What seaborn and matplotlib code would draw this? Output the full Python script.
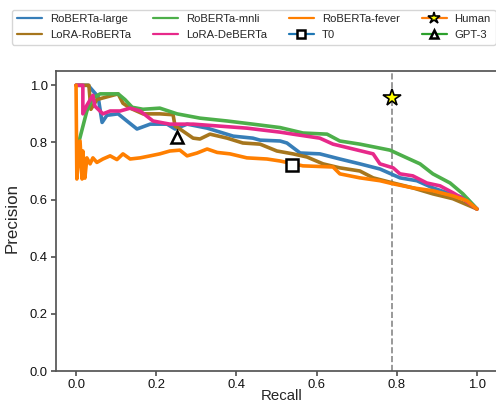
import matplotlib
matplotlib.use("Agg")
import matplotlib.pyplot as plt
import seaborn as sns
import pandas as pd

# ---- data ----
roberta_large_r = [0.0, 0.03, 0.055, 0.065, 0.077, 0.105, 0.127, 0.152, 0.185, 0.227, 0.247, 0.277, 0.327,
                   0.392, 0.441, 0.459, 0.509, 0.526, 0.559, 0.608, 0.658, 0.708, 0.758, 0.808, 0.85,
                   0.89, 0.925, 0.975, 1.0]
roberta_large_p = [1.0, 1.0, 0.96, 0.87, 0.895, 0.90, 0.875, 0.847, 0.864, 0.864, 0.847, 0.864, 0.85,
                   0.822, 0.815, 0.808, 0.805, 0.798, 0.763, 0.76, 0.742, 0.725, 0.707, 0.676, 0.666,
                   0.641, 0.624, 0.603, 0.567]

lora_roberta_r = [0.0, 0.032, 0.037, 0.052, 0.105, 0.117, 0.135, 0.167, 0.209, 0.242, 0.247, 0.259, 0.292,
                  0.309, 0.334, 0.377, 0.416, 0.459, 0.501, 0.541, 0.576, 0.616, 0.658, 0.708, 0.741,
                  0.791, 0.84, 0.89, 0.94, 1.0]
lora_roberta_p = [1.0, 1.0, 0.916, 0.95, 0.97, 0.937, 0.92, 0.90, 0.90, 0.897, 0.857, 0.847, 0.815,
                  0.812, 0.829, 0.815, 0.798, 0.794, 0.77, 0.76, 0.749, 0.725, 0.711, 0.70, 0.676,
                  0.658, 0.641, 0.62, 0.603, 0.567]

roberta_mnli_r = [0.003, 0.027, 0.042, 0.06, 0.105, 0.122, 0.14, 0.167, 0.209, 0.252, 0.309, 0.377, 0.441,
                  0.509, 0.566, 0.626, 0.658, 0.708, 0.783, 0.825, 0.858, 0.89, 0.933, 0.965, 1.0]
roberta_mnli_p = [0.78, 0.91, 0.955, 0.97, 0.97, 0.95, 0.923, 0.916, 0.92, 0.90, 0.885, 0.875, 0.864,
                  0.852, 0.833, 0.829, 0.805, 0.794, 0.773, 0.746, 0.725, 0.69, 0.658, 0.62, 0.567]

lora_deberta_r = [0.0, 0.017, 0.017, 0.027, 0.042, 0.047, 0.067, 0.085, 0.11, 0.135, 0.16, 0.192, 0.234,
                  0.292, 0.359, 0.426, 0.509, 0.541, 0.608, 0.641, 0.691, 0.741, 0.758, 0.791, 0.808,
                  0.84, 0.875, 0.908, 0.94, 0.965, 1.0]
lora_deberta_p = [1.0, 1.0, 0.90, 0.93, 0.965, 0.927, 0.90, 0.91, 0.91, 0.92, 0.91, 0.875, 0.864,
                  0.864, 0.857, 0.85, 0.836, 0.829, 0.815, 0.794, 0.777, 0.76, 0.725, 0.711, 0.69,
                  0.683, 0.658, 0.648, 0.624, 0.603, 0.567]

roberta_fever_r = [0.0, 0.002, 0.01, 0.015, 0.017, 0.022, 0.027, 0.035, 0.042, 0.052, 0.067, 0.085, 0.102,
                   0.117, 0.135, 0.16, 0.185, 0.209, 0.234, 0.259, 0.277, 0.302, 0.327, 0.352, 0.384,
                   0.426, 0.476, 0.509, 0.566, 0.641, 0.658, 0.708, 0.758, 0.791, 0.84, 0.89, 0.94,
                   0.975, 1.0]
roberta_fever_p = [1.0, 0.672, 0.805, 0.672, 0.77, 0.675, 0.746, 0.725, 0.746, 0.73, 0.742, 0.753, 0.74,
                   0.76, 0.742, 0.746, 0.753, 0.76, 0.77, 0.773, 0.753, 0.763, 0.777, 0.765, 0.76,
                   0.746, 0.742, 0.735, 0.718, 0.714, 0.69, 0.676, 0.666, 0.655, 0.641, 0.631, 0.613,
                   0.596, 0.567]

curve_names = ["RoBERTa-large", "LoRA-RoBERTa", "RoBERTa-mnli", "LoRA-DeBERTa", "RoBERTa-fever"]
curve_colors = ["#377eb8", "#a6761d", "#4daf4a", "#e7298a", "#ff7f00"]

t0_point = (0.539, 0.721)
human_point = (0.788, 0.955)
gpt3_point = (0.252, 0.819)

xtick_vals = [0.0, 0.2, 0.4, 0.6, 0.8, 1.0]
ytick_vals = [0.0, 0.2, 0.4, 0.6, 0.8, 1.0]

# ---- build long-form table ----
curves = [(roberta_large_r, roberta_large_p), (lora_roberta_r, lora_roberta_p),
          (roberta_mnli_r, roberta_mnli_p), (lora_deberta_r, lora_deberta_p),
          (roberta_fever_r, roberta_fever_p)]
frames = []
for name, (r, p) in zip(curve_names, curves):
    frames.append(pd.DataFrame({"Recall": r, "Precision": p, "model": name}))
df = pd.concat(frames, ignore_index=True)

sns.set_theme(style="ticks")
plt.rcParams["font.family"] = ["Liberation Sans", "DejaVu Sans"]
plt.rcParams["axes.edgecolor"] = "#555555"
plt.rcParams["xtick.color"] = "#555555"
plt.rcParams["ytick.color"] = "#555555"
plt.rcParams["xtick.labelcolor"] = "#111111"
plt.rcParams["ytick.labelcolor"] = "#111111"

W, H = 496, 407
fig = plt.figure(figsize=(W / 100, H / 100), dpi=100)
renderer = fig.canvas.get_renderer()


def fit_size(txt, target_px, base=10.0):
    t = fig.text(0, 0, txt, fontsize=base)
    w = t.get_window_extent(renderer).width
    t.remove()
    return base * target_px / w


legend_fs = fit_size("RoBERTa-large", 78)
tick_fs = fit_size("0.4", 18)
xlabel_fs = fit_size("Recall", 42)
ylabel_fs = fit_size("Precision", 70)

# axes: left spine x=56px, bottom y=371px, top y=71px, right spine at ~497px
ax = fig.add_axes([56 / W, 1 - 371 / H, 441 / W, 300 / H])

handles = []
for name, color in zip(curve_names, curve_colors):
    sub = df[df["model"] == name]
    sns.lineplot(data=sub, x="Recall", y="Precision", ax=ax, color=color, lw=2.6,
                 estimator=None, sort=False, label=name, legend=False)
    handles.append(ax.lines[-1])

ax.axvline(human_point[0], color="#888888", ls="--", lw=1.2, zorder=1)

h_t0, = ax.plot([t0_point[0]], [t0_point[1]], marker="s", color="#1f77b4", markersize=8,
                markerfacecolor="white", markeredgecolor="black", markeredgewidth=1.8,
                label="T0", zorder=5)
h_human, = ax.plot([human_point[0]], [human_point[1]], marker="*", color="#ff7f0e", markersize=13,
                   markerfacecolor="yellow", markeredgecolor="black", markeredgewidth=1.2,
                   label="Human", zorder=5)
h_gpt, = ax.plot([gpt3_point[0]], [gpt3_point[1]], marker="^", color="#2ca02c", markersize=9,
                 markerfacecolor="white", markeredgecolor="black", markeredgewidth=1.8,
                 label="GPT-3", zorder=5)

ax.set_xlim(-0.05, 1.05)
ax.set_ylim(0.0, 1.05)
ax.set_xticks(xtick_vals)
ax.set_yticks(ytick_vals)
ax.tick_params(labelsize=tick_fs, length=3.5, pad=2.5)
ax.set_xlabel("Recall", fontsize=xlabel_fs)
ax.set_ylabel("Precision", fontsize=ylabel_fs)
ax.xaxis.set_label_coords((282 - 56) / 441, -(389 - 371) / 300)
ax.yaxis.set_label_coords(-(56 - 12) / 441, (371 - 218) / 300)
ax.yaxis.label.set_va("center")
ax.xaxis.label.set_va("top")
for s in ax.spines.values():
    s.set_visible(True)

leg_h = [handles[0], handles[1], handles[2], handles[3], handles[4], h_t0, h_human, h_gpt]
leg_l = ["RoBERTa-large", "LoRA-RoBERTa", "RoBERTa-mnli", "LoRA-DeBERTa", "RoBERTa-fever", "T0",
         "Human", "GPT-3"]
fpx = legend_fs * 100 / 72.0
leg = fig.legend(leg_h, leg_l, ncol=4, loc="upper left",
                 bbox_to_anchor=(12 / W, 1 - 9.5 / H), borderaxespad=0,
                 fontsize=legend_fs, frameon=True, handlelength=25 / fpx,
                 columnspacing=22 / fpx, handletextpad=8 / fpx, borderpad=0.42,
                 labelspacing=0.5, fancybox=True, markerscale=0.7)
leg.get_frame().set_edgecolor("#cccccc")
leg.get_frame().set_linewidth(1.0)
for lh in leg.get_lines():
    lh.set_linewidth(1.6)

fig.savefig("out.png", dpi=100)
